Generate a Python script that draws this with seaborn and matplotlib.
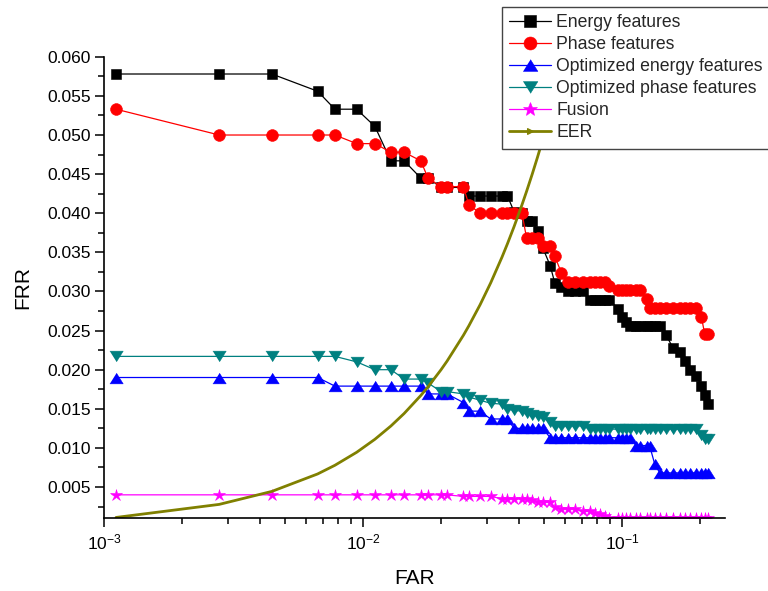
import matplotlib
matplotlib.use("Agg")
import matplotlib.pyplot as plt
import seaborn as sns
from matplotlib.ticker import MultipleLocator, FormatStrFormatter, LogLocator, NullFormatter

# False acceptance rate sample points shared by all curves
far = [0.00111, 0.00278, 0.00444, 0.00667, 0.00778, 0.00944, 0.0111, 0.0128, 0.0144, 0.0167,
       0.0178, 0.0200, 0.0211, 0.0244, 0.0256, 0.0283, 0.0311, 0.0344, 0.0361, 0.0383,
       0.0411, 0.0428, 0.0450, 0.0472, 0.0494, 0.0528, 0.0550, 0.0583, 0.0617, 0.0656,
       0.0706, 0.0750, 0.0789, 0.0822, 0.0856, 0.0894, 0.0967, 0.1000, 0.1039, 0.1072,
       0.1133, 0.1172, 0.1244, 0.1278, 0.1339, 0.1400, 0.1483, 0.1572, 0.1672, 0.1744,
       0.1828, 0.1939, 0.2028, 0.2089, 0.2150]

energy_frr = [0.0578, 0.0578, 0.0578, 0.0556, 0.0533, 0.0533, 0.0511, 0.0467, 0.0467, 0.0445,
              0.0445, 0.0433, 0.0433, 0.0433, 0.0422, 0.0422, 0.0422, 0.0422, 0.0422, 0.0402,
              0.0400, 0.0390, 0.0390, 0.0377, 0.0356, 0.0333, 0.0311, 0.0306, 0.0300, 0.0300,
              0.0300, 0.0289, 0.0289, 0.0289, 0.0289, 0.0289, 0.0278, 0.0267, 0.0261, 0.0256,
              0.0256, 0.0256, 0.0256, 0.0256, 0.0256, 0.0256, 0.0244, 0.0228, 0.0222, 0.0211,
              0.0200, 0.0192, 0.0179, 0.0167, 0.0156]

phase_frr = [0.0533, 0.0500, 0.0500, 0.0500, 0.0500, 0.0489, 0.0489, 0.0478, 0.0478, 0.0467,
             0.0445, 0.0434, 0.0434, 0.0434, 0.0411, 0.0400, 0.0400, 0.0400, 0.0400, 0.0400,
             0.0400, 0.0368, 0.0368, 0.0368, 0.0358, 0.0358, 0.0345, 0.0324, 0.0312, 0.0312,
             0.0312, 0.0312, 0.0312, 0.0312, 0.0312, 0.0307, 0.0302, 0.0302, 0.0302, 0.0302,
             0.0302, 0.0302, 0.0290, 0.0279, 0.0279, 0.0279, 0.0279, 0.0279, 0.0279, 0.0279,
             0.0279, 0.0279, 0.0267, 0.0245, 0.0245]

opt_energy_frr = [0.0190, 0.0190, 0.0190, 0.0190, 0.0179, 0.0179, 0.0179, 0.0179, 0.0179, 0.0179,
                  0.0169, 0.0169, 0.0169, 0.0158, 0.0147, 0.0147, 0.0137, 0.0137, 0.0137, 0.0125,
                  0.0125, 0.0125, 0.0125, 0.0125, 0.0125, 0.0113, 0.0113, 0.0113, 0.0113, 0.0113,
                  0.0113, 0.0113, 0.0113, 0.0113, 0.0113, 0.0113, 0.0113, 0.0113, 0.0113, 0.0113,
                  0.0103, 0.0103, 0.0103, 0.0103, 0.0079, 0.0068, 0.0068, 0.0068, 0.0068, 0.0068,
                  0.0068, 0.0068, 0.0068, 0.0068, 0.0068]

opt_phase_frr = [0.0217, 0.0217, 0.0217, 0.0217, 0.0217, 0.0210, 0.0200, 0.0200, 0.0188, 0.0188,
                 0.0183, 0.0172, 0.0172, 0.0169, 0.0165, 0.0161, 0.0157, 0.0156, 0.0150, 0.0148,
                 0.0147, 0.0145, 0.0142, 0.0141, 0.0139, 0.0133, 0.0128, 0.0128, 0.0128, 0.0128,
                 0.0128, 0.0124, 0.0124, 0.0124, 0.0124, 0.0124, 0.0124, 0.0124, 0.0124, 0.0124,
                 0.0124, 0.0124, 0.0124, 0.0124, 0.0124, 0.0124, 0.0124, 0.0124, 0.0124, 0.0124,
                 0.0124, 0.0124, 0.0116, 0.0112, 0.0111]

fusion_frr = [0.0040, 0.0040, 0.0040, 0.0040, 0.0040, 0.0040, 0.0040, 0.0040, 0.0040, 0.0040,
              0.0040, 0.0040, 0.0040, 0.0038, 0.0038, 0.0038, 0.0038, 0.0035, 0.0035, 0.0035,
              0.0035, 0.0035, 0.0034, 0.0031, 0.0031, 0.0031, 0.0024, 0.0022, 0.0022, 0.0022,
              0.0019, 0.0019, 0.0017, 0.0015, 0.0013, 0.0011, 0.0011, 0.0011, 0.0011, 0.0011,
              0.0011, 0.0011, 0.0011, 0.0011, 0.0011, 0.0011, 0.0011, 0.0011, 0.0011, 0.0011,
              0.0011, 0.0011, 0.0011, 0.0011, 0.0011]

# Equal error rate reference: FRR equals FAR
eer_frr = [0.00111, 0.00278, 0.00444, 0.00667, 0.00778, 0.00944, 0.0111, 0.0128, 0.0144, 0.0167,
           0.0178, 0.0200, 0.0211, 0.0244, 0.0256, 0.0283, 0.0311, 0.0344, 0.0361, 0.0383,
           0.0411, 0.0428, 0.0450, 0.0472, 0.0494, 0.0528, 0.0550, 0.0583, 0.0617, 0.0656,
           0.0706, 0.0750, 0.0789, 0.0822, 0.0856, 0.0894, 0.0967, 0.1000, 0.1039, 0.1072,
           0.1133, 0.1172, 0.1244, 0.1278, 0.1339, 0.1400, 0.1483, 0.1572, 0.1672, 0.1744,
           0.1828, 0.1939, 0.2028, 0.2089, 0.2150]

series_labels = ["Energy features", "Phase features", "Optimized energy features",
                 "Optimized phase features", "Fusion", "EER"]

sns.set_theme(style="ticks")
plt.rcParams.update({
    "font.family": ["Liberation Sans", "DejaVu Sans"],
    "mathtext.default": "regular",
    "axes.unicode_minus": False,
    "xtick.direction": "out",
    "ytick.direction": "out",
})

fig = plt.figure(figsize=(7.68, 5.91), dpi=100)
fig.patch.set_facecolor("white")
ax = fig.add_axes([0.1358, 0.1230, 0.8082, 0.7809])
ax.set_facecolor("white")
ax.set_xscale("log")

up_tri = [(-1.0, -0.8), (1.0, -0.8), (0.0, 0.8)]
down_tri = [(-1.0, 0.8), (1.0, 0.8), (0.0, -0.8)]

curves = [
    (energy_frr, "#000000", "s", 7.8),
    (phase_frr, "#FF0000", "o", 8.5),
    (opt_energy_frr, "#0000FF", up_tri, 9.6),
    (opt_phase_frr, "#008080", down_tri, 9.6),
    (fusion_frr, "#FF00FF", "*", 9.2),
]

for (frr, col, mk, size), lab in zip(curves, series_labels):
    sns.lineplot(x=far, y=frr, ax=ax, color=col, marker=mk, markersize=size,
                 markeredgecolor=col, markerfacecolor=col, markeredgewidth=0.4,
                 linewidth=0.9, label=lab, estimator=None, sort=False, errorbar=None)

sns.lineplot(x=far, y=eer_frr, ax=ax, color="#808000", linewidth=2.0,
             label=series_labels[-1], estimator=None, sort=False, errorbar=None)

ax.set_xlim(1e-3, 0.25)
ax.set_ylim(0.001, 0.060)

ax.xaxis.set_major_locator(LogLocator(base=10))
ax.xaxis.set_minor_locator(LogLocator(base=10, subs=[2, 3, 4, 5, 6, 7, 8, 9]))
ax.xaxis.set_minor_formatter(NullFormatter())
ax.yaxis.set_major_locator(MultipleLocator(0.005))
ax.yaxis.set_minor_locator(MultipleLocator(0.0025))
ax.yaxis.set_major_formatter(FormatStrFormatter("%.3f"))

for side in ["top", "right"]:
    ax.spines[side].set_visible(False)
for side in ["left", "bottom"]:
    ax.spines[side].set_linewidth(1.2)
    ax.spines[side].set_color("black")

ax.tick_params(which="major", length=6.5, width=1.1, color="black",
               labelsize=12.5, labelcolor="black", pad=3)
ax.tick_params(axis="x", which="major", pad=4)
ax.tick_params(which="minor", length=4, width=1.1, color="black")
ax.grid(False)

ax.set_xlabel("FAR", fontsize=15, labelpad=12, color="black")
ax.set_ylabel("FRR", fontsize=15, labelpad=11, color="black")

leg = ax.legend(loc="upper left", bbox_to_anchor=(502 / 768, 1 - 7 / 591),
                bbox_transform=fig.transFigure, borderaxespad=0, frameon=True,
                fancybox=False, edgecolor="#444444", framealpha=1, fontsize=12.7,
                handlelength=2.35, handletextpad=0.3, labelspacing=0.28,
                borderpad=0.42, markerscale=1.1)
leg.get_frame().set_linewidth(1.0)
eer_handle = leg.legend_handles[-1]
eer_handle.set_marker(">")
eer_handle.set_markersize(4.5)
eer_handle.set_markerfacecolor("#808000")
eer_handle.set_markeredgecolor("#808000")

fig.savefig("out.png", dpi=100, facecolor="white")
